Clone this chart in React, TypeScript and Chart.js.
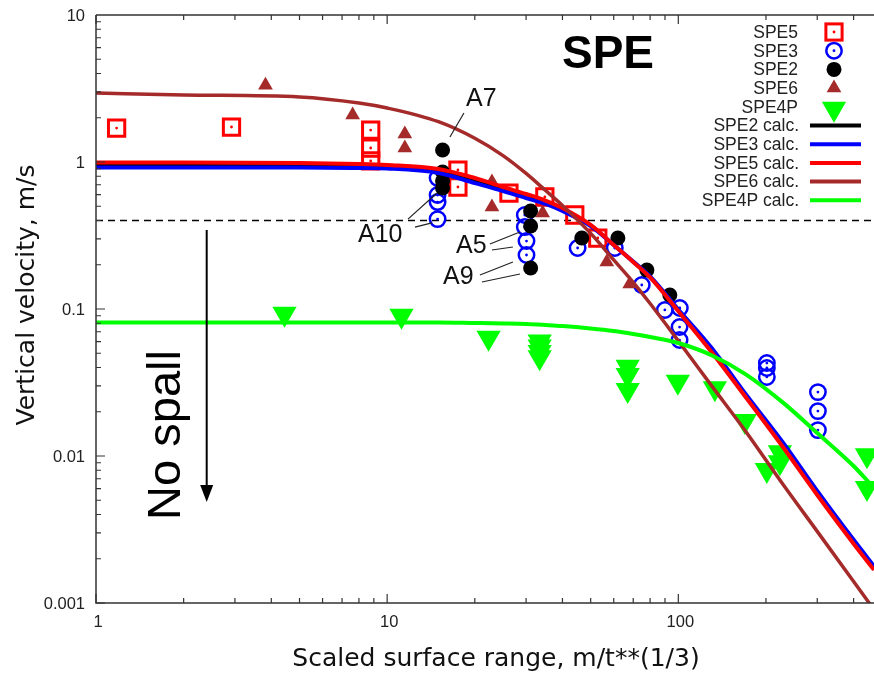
import React, { useEffect, useRef } from 'react';
import { Chart, registerables } from 'chart.js';

Chart.register(...registerables);

// ---------------- data ----------------
const spe5X = [1.177, 2.92, 8.78, 8.78, 8.78, 17.5, 17.5, 26.2, 34.8, 44.1, 52.9];
const spe5Y = [1.7, 1.73, 1.65, 1.245, 1.016, 0.882, 0.676, 0.615, 0.578, 0.436, 0.304];

const spe3X = [14.9, 14.9, 14.9, 14.9, 29.7, 29.7, 30.1, 30.1, 45.1, 60.5, 74.9, 89.9, 101.2, 101, 101, 201.4, 201.4, 201.4, 301.6, 301.6, 301.6];
const spe3Y = [0.778, 0.596, 0.534, 0.409, 0.436, 0.361, 0.29, 0.233, 0.26, 0.26, 0.1456, 0.0985, 0.1016, 0.0754, 0.0615, 0.0429, 0.0397, 0.0345, 0.0272, 0.0202, 0.015];

const spe2X = [15.5, 15.5, 15.5, 15.5, 31.1, 31.1, 31.1, 46.6, 62.0, 78.0, 93.5];
const spe2Y = [1.207, 0.855, 0.743, 0.666, 0.464, 0.367, 0.19, 0.304, 0.304, 0.184, 0.1245];

const spe6X = [3.82, 7.61, 11.5, 11.5, 22.9, 22.9, 34.2, 56.8, 68.1];
const spe6Y = [3.33, 2.09, 1.55, 1.245, 0.731, 0.494, 0.45, 0.2088, 0.148];

const spe4pX = [4.44, 11.2, 22.3, 33.4, 33.4, 33.4, 33.4, 67.0, 67.0, 67.0, 99.6, 133.5, 169.2, 223.3, 223.3, 201.4, 444.5, 444.5];
const spe4pY = [0.093, 0.09, 0.0638, 0.06, 0.0555, 0.051, 0.047, 0.0405, 0.0356, 0.0281, 0.032, 0.0289, 0.0173, 0.0106, 0.00906, 0.00803, 0.0101, 0.00606];

const calcX = [1, 2, 5, 8, 10, 15, 20, 25, 30, 35, 40, 50, 60, 70, 80, 100, 130, 170, 230, 300, 400, 470];
const spe2Calc = [0.954, 0.954, 0.95, 0.94, 0.928, 0.87, 0.748, 0.655, 0.587, 0.532, 0.475, 0.37, 0.272, 0.209, 0.165, 0.098, 0.0525, 0.0259, 0.0117, 0.0056, 0.0026, 0.00173];
const spe3Calc = [0.918, 0.918, 0.918, 0.91, 0.903, 0.842, 0.719, 0.635, 0.569, 0.518, 0.464, 0.367, 0.2724, 0.21, 0.1664, 0.0992, 0.0545, 0.0265, 0.01216, 0.00578, 0.00269, 0.00178];
const spe5Calc = [0.992, 0.992, 0.984, 0.969, 0.954, 0.896, 0.778, 0.676, 0.606, 0.547, 0.486, 0.373, 0.2724, 0.2088, 0.1638, 0.0965, 0.051, 0.0253, 0.01133, 0.00543, 0.00253, 0.00168];
const spe6Calc = [2.95, 2.86, 2.77, 2.52, 2.33, 1.88, 1.45, 1.105, 0.836, 0.64, 0.506, 0.327, 0.216, 0.152, 0.109, 0.0607, 0.0301, 0.0148, 0.00632, 0.00307, 0.0014, 0.0009];
const spe4pCalc = [0.081, 0.081, 0.081, 0.081, 0.081, 0.081, 0.0803, 0.0797, 0.079, 0.0778, 0.0766, 0.0737, 0.0708, 0.0676, 0.0645, 0.0587, 0.0485, 0.0361, 0.0229, 0.01433, 0.00855, 0.00606];

const xTicks = [1, 10, 100];
const xTickLabels = ['1', '10', '100'];
const yTicks = [10, 1, 0.1, 0.01, 0.001];
const yTickLabels = ['10', '1', '0.1', '0.01', '0.001'];

const xMin = 1;
const xMax = 470;
const yMin = 0.001;
const yMax = 10;

const spallThreshold = 0.4;
const arrowX = 2.4;
const arrowTop = 0.345;
const arrowTip = 0.00486;

const annotLabels = ['A7', 'A10', 'A5', 'A9'];
const annotLabelX = [18.65, 7.94, 17.23, 15.55];
const annotLabelY = [2.4, 0.2855, 0.24, 0.148];
const annotLeaders = [
  [[18.35, 2.154, 16.43, 1.48]],
  [[11.79, 0.409, 14.83, 0.615], [12.46, 0.361, 14.25, 0.385]],
  [[22.54, 0.2767, 28.58, 0.334], [22.9, 0.252, 27.04, 0.264]],
  [[20.83, 0.1704, 27.04, 0.2088], [21.16, 0.1527, 28.58, 0.173]],
];

const legendPoints = ['SPE5', 'SPE3', 'SPE2', 'SPE6', 'SPE4P'];
const legendLines = ['SPE2 calc.', 'SPE3 calc.', 'SPE5 calc.', 'SPE6 calc.', 'SPE4P calc.'];

const xTitle = 'Scaled surface range, m/t**(1/3)';
const yTitle = 'Vertical velocity, m/s';

// ---------------- styling ----------------
const W = 874;
const H = 673;
const RED = '#ff0000';
const BLUE = '#0000ff';
const BLACK = '#000000';
const BROWN = '#a52a2a';
const GREEN = '#00ff00';
const SANS = '"Liberation Sans", Arial, sans-serif';
const DEJAVU = '"DejaVu Sans", sans-serif';

function pts(xs: number[], ys: number[]) {
  return xs.map((x, i) => ({ x, y: ys[i] }));
}

function markerPath(ctx: CanvasRenderingContext2D, kind: string, x: number, y: number) {
  ctx.save();
  if (kind === 'square') {
    ctx.strokeStyle = RED;
    ctx.lineWidth = 3;
    ctx.strokeRect(x - 8.1, y - 8.1, 16.2, 16.2);
    ctx.fillStyle = RED;
    ctx.beginPath();
    ctx.arc(x, y, 1.4, 0, Math.PI * 2);
    ctx.fill();
  } else if (kind === 'ring') {
    ctx.strokeStyle = BLUE;
    ctx.lineWidth = 2.5;
    ctx.beginPath();
    ctx.arc(x, y, 7.7, 0, Math.PI * 2);
    ctx.stroke();
    ctx.fillStyle = BLUE;
    ctx.beginPath();
    ctx.arc(x, y, 1.4, 0, Math.PI * 2);
    ctx.fill();
  } else if (kind === 'disc') {
    ctx.fillStyle = BLACK;
    ctx.beginPath();
    ctx.arc(x, y, 7.5, 0, Math.PI * 2);
    ctx.fill();
  } else if (kind === 'tri') {
    const r = 8.5;
    ctx.fillStyle = BROWN;
    ctx.beginPath();
    ctx.moveTo(x, y - r);
    ctx.lineTo(x + r * 0.866, y + r / 2);
    ctx.lineTo(x - r * 0.866, y + r / 2);
    ctx.closePath();
    ctx.fill();
  } else if (kind === 'tridown') {
    const r = 14;
    ctx.fillStyle = GREEN;
    ctx.beginPath();
    ctx.moveTo(x, y + r);
    ctx.lineTo(x + r * 0.866, y - r / 2);
    ctx.lineTo(x - r * 0.866, y - r / 2);
    ctx.closePath();
    ctx.fill();
  }
  ctx.restore();
}

const decor = {
  id: 'decor',
  beforeDraw(chart: any) {
    const ctx = chart.ctx as CanvasRenderingContext2D;
    ctx.save();
    ctx.fillStyle = '#ffffff';
    ctx.fillRect(0, 0, chart.width, chart.height);
    ctx.restore();
  },
  beforeDatasetsDraw(chart: any) {
    const ctx = chart.ctx as CanvasRenderingContext2D;
    const y = chart.scales.y;
    const a = chart.chartArea;
    ctx.save();
    ctx.strokeStyle = '#000';
    ctx.lineWidth = 1.5;
    ctx.setLineDash([7, 5]);
    const ty = y.getPixelForValue(spallThreshold);
    ctx.beginPath();
    ctx.moveTo(a.left, ty);
    ctx.lineTo(a.right, ty);
    ctx.stroke();
    ctx.setLineDash([]);
    ctx.restore();
  },
  afterDatasetDraw(chart: any, args: any) {
    const ds = chart.data.datasets[args.index];
    if (!ds.dotColor) return;
    const ctx = chart.ctx as CanvasRenderingContext2D;
    ctx.save();
    ctx.fillStyle = ds.dotColor;
    for (const el of args.meta.data) {
      ctx.beginPath();
      ctx.arc(el.x, el.y, 1.4, 0, Math.PI * 2);
      ctx.fill();
    }
    ctx.restore();
  },
  afterDraw(chart: any) {
    const ctx = chart.ctx as CanvasRenderingContext2D;
    const x = chart.scales.x;
    const y = chart.scales.y;
    const a = chart.chartArea;
    ctx.save();

    // arrow "No spall"
    const ax = x.getPixelForValue(arrowX);
    const aTop = y.getPixelForValue(arrowTop);
    const aTip = y.getPixelForValue(arrowTip);
    ctx.strokeStyle = '#000';
    ctx.fillStyle = '#000';
    ctx.lineWidth = 2;
    ctx.beginPath();
    ctx.moveTo(ax, aTop);
    ctx.lineTo(ax, aTip - 14);
    ctx.stroke();
    ctx.beginPath();
    ctx.moveTo(ax, aTip);
    ctx.lineTo(ax - 6.5, aTip - 17);
    ctx.lineTo(ax + 6.5, aTip - 17);
    ctx.closePath();
    ctx.fill();

    // frame: left, bottom, top
    ctx.strokeStyle = '#333';
    ctx.lineWidth = 1.5;
    ctx.beginPath();
    ctx.moveTo(a.left, a.top);
    ctx.lineTo(a.right, a.top);
    ctx.moveTo(a.left, a.top);
    ctx.lineTo(a.left, a.bottom);
    ctx.lineTo(a.right, a.bottom);
    ctx.stroke();

    // ticks
    ctx.lineWidth = 1.2;
    ctx.beginPath();
    for (let e = -3; e <= 0; e++) {
      for (let m = 1; m <= 9; m++) {
        const v = m * Math.pow(10, e);
        const py = y.getPixelForValue(v);
        const len = m === 1 ? 9 : 5;
        ctx.moveTo(a.left, py);
        ctx.lineTo(a.left + len, py);
      }
    }
    for (let e = 0; e <= 2; e++) {
      for (let m = 1; m <= 9; m++) {
        const v = m * Math.pow(10, e);
        if (v > xMax) continue;
        const px = x.getPixelForValue(v);
        const len = m === 1 ? 9 : 5;
        ctx.moveTo(px, a.bottom);
        ctx.lineTo(px, a.bottom - len);
        ctx.moveTo(px, a.top);
        ctx.lineTo(px, a.top + len);
      }
    }
    ctx.stroke();

    // tick labels
    ctx.fillStyle = '#222';
    ctx.font = `16.5px ${SANS}`;
    ctx.textAlign = 'right';
    ctx.textBaseline = 'middle';
    yTicks.forEach((v, i) => {
      ctx.fillText(yTickLabels[i], a.left - 11, y.getPixelForValue(v) + 1);
    });
    ctx.textAlign = 'center';
    ctx.textBaseline = 'alphabetic';
    xTicks.forEach((v, i) => {
      ctx.fillText(xTickLabels[i], x.getPixelForValue(v) + 2, a.bottom + 24);
    });

    // axis titles
    ctx.fillStyle = '#111';
    ctx.font = `25px ${DEJAVU}`;
    ctx.textAlign = 'center';
    ctx.textBaseline = 'alphabetic';
    ctx.fillText(xTitle, 496, 666);
    ctx.save();
    ctx.translate(34, 295);
    ctx.rotate(-Math.PI / 2);
    ctx.fillText(yTitle, 0, 0);
    ctx.restore();

    // "No spall"
    ctx.save();
    ctx.fillStyle = '#000';
    ctx.font = `47px ${SANS}`;
    ctx.translate(180, 435);
    ctx.rotate(-Math.PI / 2);
    ctx.textAlign = 'center';
    ctx.fillText('No spall', 0, 0);
    ctx.restore();

    // "SPE"
    ctx.fillStyle = '#000';
    ctx.font = `bold 46px ${SANS}`;
    ctx.textAlign = 'left';
    ctx.fillText('SPE', 562, 68);

    // annotations
    ctx.fillStyle = '#111';
    ctx.strokeStyle = '#222';
    ctx.lineWidth = 1.2;
    ctx.font = `25px ${SANS}`;
    ctx.textAlign = 'left';
    annotLabels.forEach((lab, i) => {
      ctx.fillText(lab, x.getPixelForValue(annotLabelX[i]), y.getPixelForValue(annotLabelY[i]));
      ctx.beginPath();
      for (const s of annotLeaders[i]) {
        ctx.moveTo(x.getPixelForValue(s[0]), y.getPixelForValue(s[1]));
        ctx.lineTo(x.getPixelForValue(s[2]), y.getPixelForValue(s[3]));
      }
      ctx.stroke();
    });

    // legend
    const rowY = (i: number) => 32 + i * 18.7;
    const kinds = ['square', 'ring', 'disc', 'tri', 'tridown'];
    const lineColors = [BLACK, BLUE, RED, BROWN, GREEN];
    ctx.font = `17.5px ${SANS}`;
    ctx.textAlign = 'right';
    ctx.textBaseline = 'middle';
    legendPoints.forEach((lab, i) => {
      ctx.fillStyle = '#222';
      ctx.fillText(lab, 798, rowY(i) + 1);
      markerPath(ctx, kinds[i], 834, rowY(i) + (kinds[i] === 'tridown' ? 2 : 0));
    });
    legendLines.forEach((lab, j) => {
      const i = j + 5;
      ctx.fillStyle = '#222';
      ctx.fillText(lab, 799, rowY(i) + 1);
      ctx.strokeStyle = lineColors[j];
      ctx.lineWidth = 4;
      ctx.beginPath();
      ctx.moveTo(810, rowY(i));
      ctx.lineTo(861, rowY(i));
      ctx.stroke();
    });

    ctx.restore();
  },
};

export default function App() {
  const ref = useRef<HTMLCanvasElement>(null);
  useEffect(() => {
    const canvas = ref.current as HTMLCanvasElement;
    const lineDs = (label: string, ys: number[], color: string, width: number) => ({
      label,
      data: pts(calcX, ys),
      showLine: true,
      borderColor: color,
      backgroundColor: color,
      borderWidth: width,
      pointRadius: 0,
      cubicInterpolationMode: 'monotone',
      fill: false,
    });
    const chart = new Chart(canvas, {
      type: 'scatter',
      data: {
        datasets: [
          lineDs('SPE4P calc.', spe4pCalc, GREEN, 4),
          lineDs('SPE6 calc.', spe6Calc, BROWN, 3.5),
          lineDs('SPE5 calc.', spe5Calc, RED, 4),
          lineDs('SPE3 calc.', spe3Calc, BLUE, 4),
          lineDs('SPE2 calc.', spe2Calc, BLACK, 3),
          {
            label: 'SPE4P',
            data: pts(spe4pX, spe4pY),
            pointStyle: 'triangle',
            pointRotation: 180,
            pointRadius: 14,
            backgroundColor: GREEN,
            borderWidth: 0,
          },
          {
            label: 'SPE6',
            data: pts(spe6X, spe6Y),
            pointStyle: 'triangle',
            pointRadius: 8.5,
            backgroundColor: BROWN,
            borderWidth: 0,
          },
          {
            label: 'SPE2',
            data: pts(spe2X, spe2Y),
            pointStyle: 'circle',
            pointRadius: 7.5,
            backgroundColor: BLACK,
            borderWidth: 0,
          },
          {
            label: 'SPE3',
            data: pts(spe3X, spe3Y),
            pointStyle: 'circle',
            pointRadius: 7.7,
            backgroundColor: 'rgba(0,0,0,0)',
            borderColor: BLUE,
            borderWidth: 2.5,
            dotColor: BLUE,
          },
          {
            label: 'SPE5',
            data: pts(spe5X, spe5Y),
            pointStyle: 'rect',
            pointRadius: 11.5,
            backgroundColor: 'rgba(0,0,0,0)',
            borderColor: RED,
            borderWidth: 3,
            dotColor: RED,
          },
        ] as any,
      },
      options: {
        responsive: false,
        maintainAspectRatio: false,
        devicePixelRatio: 1,
        animation: false,
        events: [],
        layout: { autoPadding: false, padding: { left: 96, right: 0, top: 15, bottom: 70 } },
        plugins: { legend: { display: false }, tooltip: { enabled: false } },
        scales: {
          x: { type: 'logarithmic', min: xMin, max: xMax, display: false },
          y: { type: 'logarithmic', min: yMin, max: yMax, display: false },
        },
      } as any,
      plugins: [decor as any],
    });
    return () => chart.destroy();
  }, []);
  return (
    <div style={{ position: 'fixed', left: 0, top: 0, width: W, height: H, background: '#fff' }}>
      <canvas ref={ref} width={W} height={H} style={{ display: 'block', width: W, height: H }} />
    </div>
  );
}
